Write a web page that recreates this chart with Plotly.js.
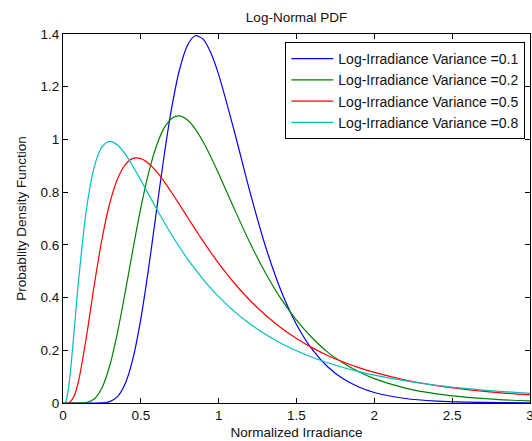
<!DOCTYPE html>
<html>
<head>
<meta charset="utf-8">
<script src="https://cdn.plot.ly/plotly-3.0.1.min.js"></script>
<style>html,body{margin:0;padding:0;background:#fff;}#chart{width:532px;height:441px;}</style>
</head>
<body>
<div id="chart"></div>
<script>
// Normalized irradiance (x) sample positions
const irradiance = [0, 0.01, 0.02, 0.03, 0.04, 0.05, 0.075, 0.1, 0.15, 0.2, 0.25, 0.3, 0.35, 0.4, 0.45, 0.5, 0.55, 0.6, 0.65, 0.7, 0.75, 0.8, 0.85, 0.9, 0.95, 1.0, 1.1, 1.2, 1.3, 1.4, 1.5, 1.6, 1.7, 1.8, 1.9, 2.0, 2.2, 2.4, 2.6, 2.8, 3.0];

// PDF values, one array per log-irradiance variance
const pdfVar01 = [0, 0, 0, 0, 0, 0, 0, 0, 0, 0, 0.0007, 0.0054, 0.0243, 0.0740, 0.1702, 0.3190, 0.5116, 0.7272, 0.9400, 1.1261, 1.2682, 1.3576, 1.3932, 1.3804, 1.3280, 1.2459, 1.0320, 0.8027, 0.5957, 0.4270, 0.2981, 0.2040, 0.1376, 0.0917, 0.0606, 0.0399, 0.0170, 0.0073, 0.0031, 0.0013, 0.0006];
const pdfVar02 = [0, 0, 0, 0, 0, 0, 0, 0, 0.0019, 0.0150, 0.0570, 0.1413, 0.2672, 0.4215, 0.5854, 0.7404, 0.8729, 0.9750, 1.0439, 1.0808, 1.0891, 1.0736, 1.0393, 0.9911, 0.9335, 0.8700, 0.7372, 0.6091, 0.4942, 0.3957, 0.3140, 0.2475, 0.1931, 0.1519, 0.1186, 0.0926, 0.0563, 0.0344, 0.0212, 0.0131, 0.0082];
const pdfVar05 = [0, 0, 0, 0.0005, 0.0021, 0.0060, 0.0315, 0.0835, 0.2495, 0.4445, 0.6205, 0.7569, 0.8502, 0.9048, 0.9280, 0.9272, 0.9089, 0.8785, 0.8401, 0.7969, 0.7512, 0.7047, 0.6587, 0.6139, 0.5709, 0.5300, 0.4553, 0.3900, 0.3338, 0.2857, 0.2448, 0.2100, 0.1804, 0.1554, 0.1340, 0.1159, 0.0872, 0.0662, 0.0507, 0.0392, 0.0305];
const pdfVar08 = [0, 0.0007, 0.0100, 0.0357, 0.0777, 0.1323, 0.2966, 0.4643, 0.7327, 0.8940, 0.9714, 0.9926, 0.9788, 0.9440, 0.8975, 0.8454, 0.7914, 0.7377, 0.6858, 0.6364, 0.5900, 0.5467, 0.5066, 0.4694, 0.4352, 0.4036, 0.3478, 0.3007, 0.2608, 0.2270, 0.1982, 0.1737, 0.1527, 0.1347, 0.1191, 0.1057, 0.0839, 0.0672, 0.0544, 0.0444, 0.0365];

const seriesNames = ['Log-Irradiance Variance =0.1', 'Log-Irradiance Variance =0.2', 'Log-Irradiance Variance =0.5', 'Log-Irradiance Variance =0.8'];
const seriesColors = ['#0000ff', '#008000', '#ff0000', '#00bfbf'];
const seriesData = [pdfVar01, pdfVar02, pdfVar05, pdfVar08];

const traces = seriesData.map((ys, i) => ({
  x: irradiance,
  y: ys,
  type: 'scatter',
  mode: 'lines',
  name: seriesNames[i],
  line: {color: seriesColors[i], width: 1.2, shape: 'spline', smoothing: 0.8},
  hoverinfo: 'skip'
}));

const fontFam = 'Liberation Sans, Arial, sans-serif';
const txt = '#111';
const axisCommon = {
  ticks: 'inside', ticklen: 5, tickwidth: 1, tickcolor: '#000',
  showline: true, mirror: 'ticks', linecolor: '#000', linewidth: 1,
  showgrid: false, zeroline: false, ticklabeloverflow: 'allow',
  tickfont: {family: fontFam, size: 13.5, color: txt}
};

const layout = {
  width: 532, height: 441,
  margin: {l: 63, r: 1.5, t: 34, b: 38, pad: 0},
  paper_bgcolor: '#ffffff', plot_bgcolor: '#ffffff',
  font: {family: fontFam, size: 13.5, color: txt},
  showlegend: true,
  title: {text: 'Log-Normal PDF', font: {family: fontFam, size: 13.5, color: txt},
          xref: 'paper', x: 0.5, xanchor: 'center', yref: 'container', y: 1 - 17/441, yanchor: 'middle'},
  xaxis: Object.assign({}, axisCommon, {
    range: [0, 3], tick0: 0, dtick: 0.5,
    title: {text: 'Normalized Irradiance', font: {family: fontFam, size: 13.5, color: txt}, standoff: 5}
  }),
  yaxis: Object.assign({}, axisCommon, {
    range: [0, 1.4], tick0: 0, dtick: 0.2,
    title: {text: 'Probablity Density Function', font: {family: fontFam, size: 13.5, color: txt}, standoff: 10}
  }),
  legend: {
    x: 0.99, xanchor: 'right', y: 0.978, yanchor: 'top',
    bgcolor: '#ffffff', bordercolor: '#000', borderwidth: 1,
    font: {family: fontFam, size: 14, color: txt},
    itemwidth: 42
  }
};

Plotly.newPlot('chart', traces, layout, {staticPlot: true, displayModeBar: false});
</script>
</body>
</html>
